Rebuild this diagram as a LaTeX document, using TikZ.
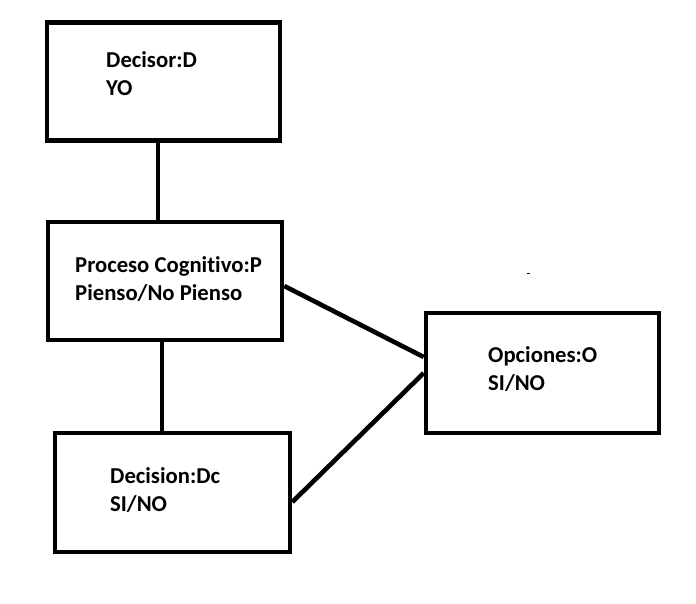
\documentclass[tikz,border=0pt]{standalone}
\usepackage{fontspec}
\setmainfont{Carlito}[Ligatures=NoCommon]
\begin{document}
\begin{tikzpicture}[x=1pt,y=-1pt,
  box/.style={draw=black,line width=4.6pt,minimum width=#1,minimum height=118pt,inner sep=0pt,anchor=center},
  lbl/.style={anchor=base west,align=left,inner sep=0pt,font=\bfseries\fontsize{22.7}{27.5}\selectfont},
  link/.style={draw=black,line width=4.6pt}]
\useasboundingbox[fill=white] (0,0) rectangle (696,603);
\node[box=233pt] (d) at (163.5,81.5) {};
\node[box=234pt] (p) at (165,281) {};
\node[box=235pt,minimum height=119pt] (dc) at (172.5,492.5) {};
\node[box=233pt,minimum height=120pt] (o) at (542.5,373) {};
\node[lbl] (dt) at (106,95) {Decisor:D\\YO};
\node[lbl] (pt) at (75,300) {Proceso Cognitivo:P\\Pienso/No Pienso};
\node[lbl] (dct) at (110,511) {Decision:Dc\\SI/NO};
\node[lbl] (ot) at (488,390) {Opciones:O\\SI/NO};
\draw[link] ([xshift=-5.5pt]d.south) -- ([xshift=-7pt]p.north);
\draw[link] ([xshift=-3pt]p.south) -- ([xshift=-10.5pt]dc.north);
\draw[link] ([yshift=-5pt]p.east) -- ([yshift=16pt]o.west);
\draw[link] ([yshift=-9.5pt]dc.east) -- (o.west);
\coordinate (dot) at (528.5,273);
\fill[black] ([xshift=-1.5pt,yshift=-0.5pt]dot) rectangle ([xshift=1.5pt,yshift=0.5pt]dot);
\end{tikzpicture}
\end{document}
